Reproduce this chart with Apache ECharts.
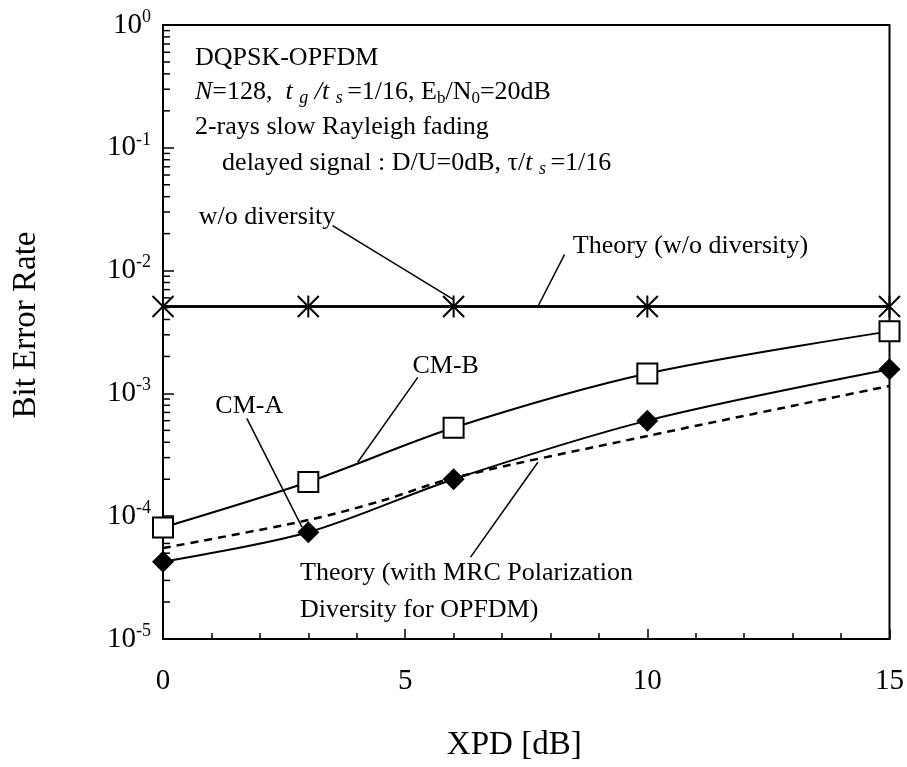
<!DOCTYPE html>
<html>
<head>
<meta charset="utf-8">
<script src="https://cdn.jsdelivr.net/npm/echarts@6/dist/echarts.min.js"></script>
<style>
  html, body { margin: 0; padding: 0; background: #fff; }
  #chart { width: 907px; height: 767px; }
</style>
</head>
<body>
<div id="chart"></div>
<script>
// XPD (dB) at which the BER was evaluated
const xpd = [0, 3, 6, 10, 15];
// Without diversity (simulation, asterisks)
const berWithoutDiversity = [5.1e-3, 5.1e-3, 5.1e-3, 5.1e-3, 5.1e-3];
// CM-A (filled diamonds)
const berCmA = [4.25e-5, 7.4e-5, 2.0e-4, 6.0e-4, 1.57e-3];
// CM-B (open squares)
const berCmB = [8.1e-5, 1.9e-4, 5.25e-4, 1.45e-3, 3.2e-3];
// Theory with MRC polarization diversity (dashed)
const theoryMrcXpd = [0, 3, 4.5, 6, 10, 15];
const theoryMrcBer = [5.5e-5, 9.3e-5, 1.33e-4, 2.05e-4, 4.5e-4, 1.15e-3];
// Theory without diversity (solid horizontal)
const theoryWithoutXpd = [0, 15];
const theoryWithoutBer = [5.1e-3, 5.1e-3];
// Axis ticks
const xTickValues = [0, 5, 10, 15];
const yDecadeExponents = [0, -1, -2, -3, -4, -5];

const FONT = '"Liberation Serif", "Times New Roman", serif';
const INK = '#000';

// minor ticks of the log axis: 2..9 x 10^k inside every decade
const yMinorTicks = [];
for (let e = -5; e < 0; e++) {
  for (let m = 2; m <= 9; m++) yMinorTicks.push([0, m * Math.pow(10, e)]);
}

const chart = echarts.init(document.getElementById('chart'), null, { renderer: 'canvas' });

const pairs = (xs, ys) => xs.map((x, i) => [x, ys[i]]);

const lineBase = {
  type: 'line',
  smooth: 0.3,
  clip: false,
  lineStyle: { color: INK, width: 2 },
  z: 3
};

chart.setOption({
  animation: false,
  backgroundColor: '#fff',
  grid: {
    left: 163, right: 17, top: 25, bottom: 127,
    show: true, borderColor: INK, borderWidth: 2, backgroundColor: 'transparent'
  },
  xAxis: {
    type: 'value', min: 0, max: 15, interval: 5,
    axisLine: { show: true, lineStyle: { color: INK, width: 2 } },
    axisTick: { show: true, inside: true, length: 10, lineStyle: { color: INK, width: 1.5 } },
    minorTick: { show: true, splitNumber: 5, length: 6, lineStyle: { color: INK, width: 1.5 } },
    splitLine: { show: false },
    axisLabel: {
      margin: 28, color: INK, fontFamily: FONT, fontSize: 29,
      formatter: v => (xTickValues.indexOf(v) >= 0 ? String(v) : '')
    },
    name: 'XPD [dB]', nameLocation: 'middle', nameGap: 90,
    nameTextStyle: { color: INK, fontFamily: FONT, fontSize: 33, padding: [0, 24, 0, 0] }
  },
  yAxis: {
    type: 'log', logBase: 10, min: 1e-5, max: 1,
    axisLine: { show: true, lineStyle: { color: INK, width: 2 } },
    axisTick: { show: true, inside: true, length: 11, lineStyle: { color: INK, width: 1.5 } },
    splitLine: { show: false },
    axisLabel: {
      margin: 12, color: INK,
      formatter: v => {
        const e = Math.round(Math.log10(v));
        return yDecadeExponents.indexOf(e) >= 0 ? '{b|10}{s|' + e + '}' : '';
      },
      rich: {
        b: { fontFamily: FONT, fontSize: 29, lineHeight: 34, color: INK },
        s: { fontFamily: FONT, fontSize: 18, lineHeight: 16, verticalAlign: 'top', color: INK }
      }
    },
    name: 'Bit Error Rate', nameLocation: 'middle', nameGap: 120, nameRotate: 90,
    nameTextStyle: { color: INK, fontFamily: FONT, fontSize: 33, padding: [0, 0, 0, 14] }
  },
  series: [
    {
      // minor ticks of the log axis
      type: 'custom', silent: true, z: 2,
      data: yMinorTicks,
      renderItem: (params, api) => {
        const p = api.coord([api.value(0), api.value(1)]);
        return {
          type: 'line',
          shape: { x1: p[0], y1: p[1], x2: p[0] + 7, y2: p[1] },
          style: { stroke: INK, lineWidth: 1.5 }
        };
      }
    },
    {
      ...lineBase, name: 'Theory (with MRC)', smooth: 0.3,
      data: pairs(theoryMrcXpd, theoryMrcBer), symbol: 'none',
      lineStyle: { color: INK, width: 2.5, type: [8, 6] }, z: 2
    },
    {
      ...lineBase, name: 'Theory (w/o diversity)', smooth: false,
      data: pairs(theoryWithoutXpd, theoryWithoutBer), symbol: 'none',
      lineStyle: { color: INK, width: 2.5 }
    },
    {
      ...lineBase, name: 'w/o diversity', smooth: false,
      data: pairs(xpd, berWithoutDiversity), symbol: 'none',
      lineStyle: { color: INK, width: 2.5 }
    },
    {
      // asterisk markers
      type: 'custom', name: 'w/o diversity markers', z: 6,
      data: pairs(xpd, berWithoutDiversity),
      renderItem: (params, api) => {
        const p = api.coord([api.value(0), api.value(1)]);
        const r = 11, d = 10.5;
        const seg = (x1, y1, x2, y2) => ({
          type: 'line', shape: { x1, y1, x2, y2 },
          style: { stroke: INK, lineWidth: 2 }
        });
        return {
          type: 'group',
          children: [
            seg(p[0], p[1] - r, p[0], p[1] + r),
            seg(p[0] - d, p[1] - d, p[0] + d, p[1] + d),
            seg(p[0] - d, p[1] + d, p[0] + d, p[1] - d)
          ]
        };
      }
    },
    {
      ...lineBase, name: 'CM-B',
      data: pairs(xpd, berCmB),
      symbol: 'rect', symbolSize: 20,
      itemStyle: { color: '#fff', borderColor: INK, borderWidth: 2 }, z: 4
    },
    {
      ...lineBase, name: 'CM-A',
      data: pairs(xpd, berCmA),
      symbol: 'diamond', symbolSize: [22, 22],
      itemStyle: { color: INK, borderColor: INK, borderWidth: 0 }, z: 4
    }
  ]
});

// Labels and leader lines, placed in data coordinates (XPD, BER)
const annotations = [
  { text: 'w/o diversity', at: [0.74, 0.027], from: [3.5, 0.0232], to: [6.0, 5.8e-3] },
  { text: 'Theory (w/o diversity)', at: [8.46, 0.0157], from: [8.29, 0.0135], to: [7.74, 5.1e-3] },
  { text: 'CM-B', at: [5.15, 1.66e-3], from: [5.26, 1.35e-3], to: [4.02, 2.75e-4] },
  { text: 'CM-A', at: [1.08, 7.84e-4], from: [1.73, 6.26e-4], to: [2.87, 8.14e-5] },
  { text: 'Theory (with MRC Polarization', at: [2.83, 3.44e-5], from: [6.35, 4.64e-5], to: [7.74, 2.75e-4] },
  { text: 'Diversity for OPFDM)', at: [2.83, 1.72e-5] }
];

// Condition block (top-left)
const conditionLines = [
  { text: 'DQPSK-OPFDM', at: [0.66, 0.539] },
  { text: '{i|N}=128,  {i|t }{is|g}{i| /t }{is|s }=1/16, E{s|b}/N{s|0}=20dB', at: [0.66, 0.285] },
  { text: '2-rays slow Rayleigh fading', at: [0.66, 0.148] },
  { text: 'delayed signal : D/U=0dB, τ/{i|t }{is|s }=1/16', at: [1.22, 0.0755] }
];

const ANN_SIZE = 26;
const richAnn = {
  i: { fontFamily: FONT, fontSize: ANN_SIZE, fontStyle: 'italic', lineHeight: 30, fill: INK },
  is: { fontFamily: FONT, fontSize: 18, fontStyle: 'italic', lineHeight: 14, verticalAlign: 'bottom', fill: INK },
  s: { fontFamily: FONT, fontSize: 17, lineHeight: 14, verticalAlign: 'bottom', fill: INK }
};

const px = c => chart.convertToPixel({ xAxisIndex: 0, yAxisIndex: 0 }, c);
const graphics = [];
annotations.concat(conditionLines).forEach(a => {
  const p = px(a.at);
  graphics.push({
    type: 'text', x: p[0], y: p[1], z: 10,
    style: {
      text: a.text, fill: INK,
      font: ANN_SIZE + 'px ' + FONT,
      fontFamily: FONT, fontSize: ANN_SIZE,
      align: 'left', verticalAlign: 'middle',
      lineHeight: 30,
      rich: richAnn
    }
  });
  if (a.from) {
    const f = px(a.from), t = px(a.to);
    graphics.push({
      type: 'line', z: 9,
      shape: { x1: f[0], y1: f[1], x2: t[0], y2: t[1] },
      style: { stroke: INK, lineWidth: 1.5 }
    });
  }
});
chart.setOption({ graphic: graphics });
</script>
</body>
</html>
